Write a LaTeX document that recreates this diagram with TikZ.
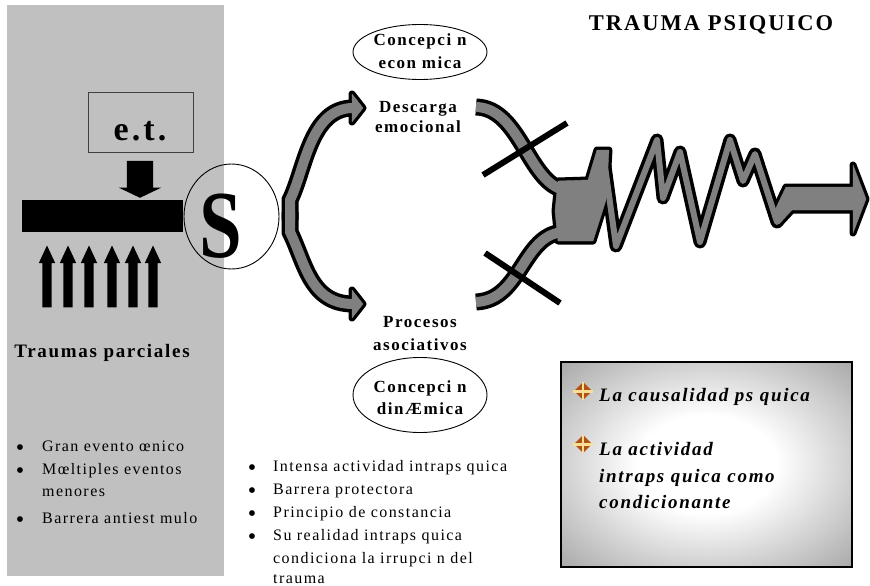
\documentclass[tikz,border=0pt]{standalone}
\usepackage{fontspec}
\setmainfont{Liberation Serif}[LetterSpace=9]
\usetikzlibrary{%
        shapes.arrows,
        shapes.geometric
    }
\definecolor{panelgray}{RGB}{192, 192, 192}
\definecolor{bandgray}{RGB}{128, 128, 128}
\definecolor{iconbrown}{RGB}{176, 82, 20}
\definecolor{iconlight}{RGB}{250, 222, 150}
\pgfdeclareradialshading{boxglow}{\pgfpoint{0bp}{0bp}}{%
    color(0bp)=(white); color(12bp)=(white);
    color(48bp)=(black!52); color(75bp)=(black!55)}
\newcommand{\fsz}[2]{\fontsize{#1}{#2}\selectfont}

\begin{document}
\begin{tikzpicture}[x=1pt, y=-1pt,
    uparrow/.style={single arrow, fill=black, inner xsep=0pt, inner ysep=4.5pt,
        single arrow head extend=3.5pt, single arrow tip angle=50,
        minimum height=62pt, rotate=90, anchor=tip},
    downarrow/.style={single arrow, fill=black, inner xsep=0pt, inner ysep=13pt,
        single arrow head extend=8pt, single arrow tip angle=129,
        minimum height=37pt, rotate=-90, anchor=tip},
    oval/.style={draw, ellipse, line width=0.9pt, inner sep=0pt},
    listtext/.style={font=\fsz{16}{20}, anchor=base west, inner sep=0pt},
    listdot/.style={font=\fsz{24}{24}, anchor=base, inner sep=0pt}
]
    \useasboundingbox (0, 0) rectangle (870, 586);

    % left panel
    \fill[panelgray] (7, 5) rectangle (224, 576);

    \node[draw=black!75, line width=0.8pt, minimum width=105pt, minimum height=60pt,
        inner sep=0pt] (etbox) at (140.5, 122) {};
    \node[font=\fsz{34}{34}\bfseries, anchor=base] (et) at (140, 140) {e.t.};
    \node[downarrow] (push) at (140, 198) {};
    \fill (22, 200) rectangle (183, 232);

    \foreach \ax [count=\i] in {47, 68, 89, 112, 133, 153} {%
        \node[uparrow] (up\i) at (\ax, 245) {};
    };

    \node[font=\fsz{19}{23}\bfseries, anchor=base] (parciales) at (102, 357)
        {Traumas parciales};

    % S
    \node[draw, ellipse, line width=0.9pt, minimum width=95pt, minimum height=105pt,
        inner sep=0pt] (scirc) at (231.5, 216.5) {};
    \node[font=\fsz{96}{96}\bfseries, anchor=base, xscale=0.8] (stxt) at (221, 257) {S};

    % gray bands: black outline first, gray body on top
    \foreach \wide/\thin/\edge/\col in {17/13/7/black, 10/6/0.4/bandgray} {%
        \draw[line width=\wide pt, \col]
            (290, 220) -- (290, 200) .. controls (305, 170) and (310, 108) .. (353, 108);
        \draw[line width=\wide pt, \col]
            (290, 212) -- (290, 232) .. controls (305, 262) and (310, 304) .. (353, 304);
        \filldraw[line width=\edge pt, \col, line join=round]
            (352, 94) -- (363, 108) -- (352, 122) -- cycle;
        \filldraw[line width=\edge pt, \col, line join=round]
            (352, 290) -- (363, 304) -- (352, 318) -- cycle;

        \draw[line width=\wide pt, \col]
            (476, 107) .. controls (520, 108) and (528, 182) .. (564, 190);
        \draw[line width=\wide pt, \col]
            (476, 302) .. controls (522, 300) and (522, 234) .. (564, 232);

        \filldraw[line width=\edge pt, \col, line join=round]
            (558, 181) -- (588, 180) -- (597, 150) -- (609, 150) -- (606, 200) --
            (593, 241) -- (558, 241) -- (555, 211) -- cycle;
        \draw[line width=\thin pt, \col, line join=round]
            (603, 152) -- (616, 246) -- (657, 140) -- (663, 198) -- (680, 152) --
            (700, 242) -- (730, 140) -- (743, 181) -- (755, 154) -- (777, 222) --
            (790, 200);
        \filldraw[line width=\edge pt, \col, line join=round]
            (786, 187) -- (853, 187) -- (853, 165) -- (866, 199) -- (853, 233) --
            (853, 210) -- (792, 210) -- (779, 224) -- (774, 212) -- cycle;
    };

    % blocked paths
    \draw[line width=6pt] (483, 175) -- (567, 123);
    \draw[line width=6pt] (485, 253) -- (560, 303);

    % labels round the branches
    \node[oval, minimum width=134pt, minimum height=55pt] (econ) at (420, 52) {};
    \node[font=\fsz{17}{23}\bfseries, align=center] (econtxt) at (420, 51)
        {Concepci n\\econ mica};
    \node[font=\fsz{17}{20}\bfseries, align=center] (descarga) at (418, 117)
        {Descarga\\emocional};
    \node[font=\fsz{17}{23}\bfseries, align=center] (procesos) at (420, 334)
        {Procesos\\asociativos};
    \node[oval, minimum width=134pt, minimum height=75pt] (dyn) at (420, 395) {};
    \node[font=\fsz{17}{22}\bfseries, align=center] (dyntxt) at (420, 398)
        {Concepci n\\dinÆmica};

    \node[font=\fsz{22.5}{27}\bfseries] (title) at (711, 25) {TRAUMA PSIQUICO};

    % bullet lists
    \foreach \txt/\yy/\dot [count=\k] in {%
            Gran evento œnico/451/1, Mœltiples eventos/474/1,
            menores/496/0, Barrera antiest mulo/523/1} {%
        \node[listtext] (part\k) at (42, \yy) {\txt};
        \ifnum\dot=1 \node[listdot] at (20, \yy+4) {\textbullet}; \fi
    };
    \foreach \txt/\yy/\dot [count=\k] in {%
            Intensa actividad intraps quica/471/1, Barrera protectora/494/1,
            Principio de constancia/517/1, Su realidad intraps quica/540/1,
            condiciona la irrupci n del/563/0, trauma/583/0} {%
        \node[listtext] (dyn\k) at (273, \yy) {\txt};
        \ifnum\dot=1 \node[listdot] at (252, \yy+4) {\textbullet}; \fi
    };

    % right box
    \node[draw, line width=1.2pt, shading=boxglow, minimum width=291pt,
        minimum height=205pt, inner sep=0pt] (causebox) at (706.5, 464.5) {};
    \foreach \iy in {391, 444} {%
        \fill[iconbrown] (574, \iy) -- (583, \iy-9) -- (592, \iy) -- (583, \iy+9) -- cycle;
        \fill[iconlight] (573, \iy-1.5) rectangle (593, \iy+1.5);
        \fill[iconlight] (582, \iy-9) rectangle (584, \iy+9);
    };
    \foreach \txt/\yy [count=\k] in {%
            La causalidad ps quica/401, La actividad/455,
            intraps quica como/482, condicionante/508} {%
        \node[font=\fsz{19}{27}\bfseries\itshape, anchor=base west, inner sep=0pt]
            (cause\k) at (599, \yy) {\txt};
    };

\end{tikzpicture}
\end{document}
